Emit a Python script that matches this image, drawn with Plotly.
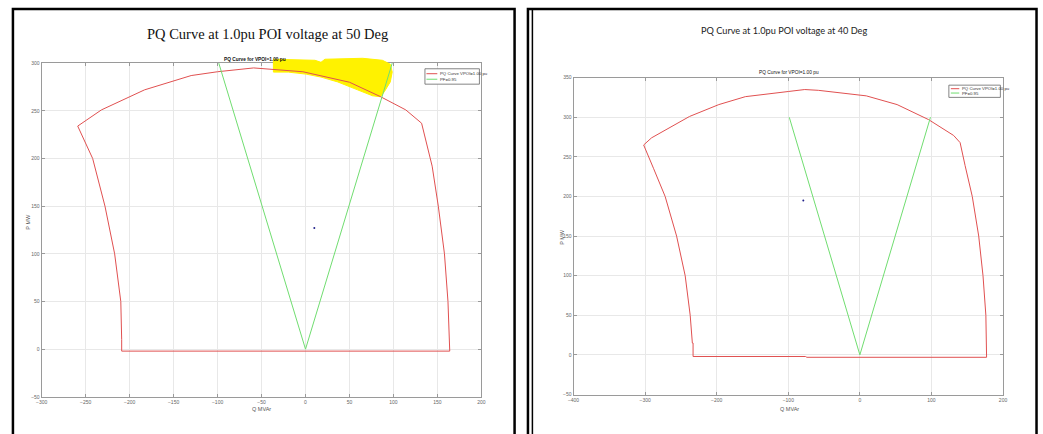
import plotly.graph_objects as go

W, H = 1043, 434

# ---------------- data: left panel (50 Deg) ----------------
q_pq50 = [-209, -209, -210, -217, -228, -242, -259, -232, -183, -130, -100, -59, -3, 50, 85, 114, 132, 144, 151, 158, 162, 164, 164, -209]
p_pq50 = [-2, 10, 50, 100, 150, 200, 234, 251, 272, 287, 291, 295, 291, 280, 265, 251, 237, 192, 150, 100, 50, 10, -2, -2]
q_pf50 = [-98.6, 0, 98.6]
p_pf50 = [300, 0, 300]
q_pt50 = [10]
p_pt50 = [127]
q_hl50 = [-36.5, 10.8, 17.6, 22.1, 64.9, 87.4, 96.4, 98.6, 96.4, 89.6, 85.1, 76.1, 59.2, 48.0, 36.7, 17.6, 0.7, -19.6, -36.5, -36.5]
p_hl50 = [304.1, 303.0, 300.9, 304.1, 305.1, 303.0, 298.9, 290.7, 280.3, 270.0, 264.8, 265.8, 272.0, 276.1, 280.3, 285.4, 288.5, 290.6, 290.6, 304.1]

# ---------------- data: right panel (40 Deg) ----------------
q_pq40 = [-233, -233, -234, -237, -244, -256, -272, -288, -302, -291, -238, -197, -160, -100, -77, -58, 9, 52, 96, 131, 140, 147, 157, 166, 172, 176, 177, 177, -74, -76, -233]
p_pq40 = [-2, 15, 15, 50, 100, 150, 200, 235, 265, 274, 301, 316, 326, 332.5, 335, 334, 327, 316, 297, 277, 268, 239, 200, 150, 100, 50, 10, -3, -3, -2, -2]
q_pf40 = [-98.6, 0, 98.6]
p_pf40 = [300, 0, 300]
q_pt40 = [-79]
p_pt40 = [195]

x_ticks50 = list(range(-300, 201, 50))
y_ticks50 = list(range(-50, 301, 50))
x_ticks40 = list(range(-400, 201, 100))
y_ticks40 = list(range(-50, 351, 50))

main_title50 = "PQ Curve at 1.0pu POI voltage at 50 Deg"
main_title40 = "PQ Curve at 1.0pu POI voltage at 40 Deg"
inner_title = "PQ Curve for VPOI=1.00 pu"
leg_names = ["PQ Curve VPOI=1.00 pu", "PF=0.95"]

RED = "#e05050"
GREEN = "#70dd70"


def px(x):
    return x / W


def py(y):
    return 1 - y / H


# left panel pixel geometry
L_X0, L_X1 = 36, 480
L_YB, L_YT = 399.4, 61
L_EXT = 12  # extra px above the visible box for the highlight overlay
l_ppu = (L_YB - L_YT) / 350.0

fig = go.Figure()

# left panel traces live on an invisible overlay axis with the same scale,
# extended a little upward so that the highlight can spill over the box edge
fig.add_trace(go.Scatter(x=q_hl50, y=p_hl50, xaxis="x3", yaxis="y3", mode="lines",
                         fill="toself", fillcolor="#fff200",
                         line=dict(color="#fff200", width=1),
                         showlegend=False, hoverinfo="skip"))
fig.add_trace(go.Scatter(x=q_pq50, y=p_pq50, xaxis="x3", yaxis="y3", mode="lines",
                         line=dict(color=RED, width=1), name=leg_names[0], showlegend=False))
fig.add_trace(go.Scatter(x=q_pf50, y=p_pf50, xaxis="x3", yaxis="y3", mode="lines",
                         line=dict(color=GREEN, width=1), name=leg_names[1], showlegend=False))
fig.add_trace(go.Scatter(x=q_pt50, y=p_pt50, xaxis="x3", yaxis="y3", mode="markers",
                         marker=dict(color="#20208a", size=2), showlegend=False))
# anchor trace so the visible left axes exist
fig.add_trace(go.Scatter(x=[None], y=[None], xaxis="x", yaxis="y", showlegend=False))

fig.add_trace(go.Scatter(x=q_pq40, y=p_pq40, xaxis="x2", yaxis="y2", mode="lines",
                         line=dict(color=RED, width=1), name=leg_names[0], showlegend=False))
fig.add_trace(go.Scatter(x=q_pf40, y=p_pf40, xaxis="x2", yaxis="y2", mode="lines",
                         line=dict(color=GREEN, width=1), name=leg_names[1], showlegend=False))
fig.add_trace(go.Scatter(x=q_pt40, y=p_pt40, xaxis="x2", yaxis="y2", mode="markers",
                         marker=dict(color="#20208a", size=2), showlegend=False))

tickfont = dict(family="Liberation Sans", size=5, color="#666")
axis_common = dict(showgrid=True, gridcolor="#e8e8e8", gridwidth=1, zeroline=False,
                   showline=True, linecolor="#9a9a9a", linewidth=1, mirror="ticks",
                   ticks="inside", ticklen=3, tickcolor="#9a9a9a", tickfont=tickfont)
hidden = dict(visible=False, showgrid=False, zeroline=False, fixedrange=True)

fig.update_layout(
    width=W, height=H, margin=dict(l=0, r=0, t=0, b=0),
    paper_bgcolor="white", plot_bgcolor="rgba(0,0,0,0)", showlegend=False,
    xaxis=dict(domain=[px(L_X0), px(L_X1)], range=[-300, 200], tickvals=x_ticks50,
               anchor="y", **axis_common),
    yaxis=dict(domain=[py(L_YB), py(L_YT)], range=[-50, 300], tickvals=y_ticks50,
               anchor="x", **axis_common),
    xaxis3=dict(domain=[px(L_X0), px(L_X1)], range=[-300, 200], anchor="y3", **hidden),
    yaxis3=dict(domain=[py(L_YB), py(L_YT - L_EXT)], range=[-50, 300 + L_EXT / l_ppu],
                anchor="x3", **hidden),
    xaxis2=dict(domain=[px(573), px(1006.7)], range=[-400, 200], tickvals=x_ticks40,
                anchor="y2", **axis_common),
    yaxis2=dict(domain=[py(397), py(75.7)], range=[-50, 350], tickvals=y_ticks40,
                anchor="x2", **axis_common),
)

shapes = []
annos = []


def note(text, x, y, size, family="Liberation Sans", color="#555", xanchor="center", angle=0):
    annos.append(dict(text=text, x=px(x), y=py(y), xref="paper", yref="paper",
                      xanchor=xanchor, yanchor="middle", textangle=angle, showarrow=False,
                      font=dict(family=family, size=size, color=color)))


# frames
shapes.append(dict(type="rect", xref="paper", yref="paper", x0=px(7), x1=px(513.5),
                   y0=-0.2, y1=py(6), line=dict(color="black", width=2.5)))
shapes.append(dict(type="rect", xref="paper", yref="paper", x0=px(527), x1=px(1040.5),
                   y0=-0.2, y1=py(6), line=dict(color="black", width=2.5)))
shapes.append(dict(type="line", xref="paper", yref="paper", x0=px(531.5), x1=px(531.5),
                   y0=-0.2, y1=py(6), line=dict(color="black", width=1.5)))

# main titles
note(main_title50, 264, 31, 14.5, family="Liberation Serif", color="#111")
note(main_title40, 786, 28, 9.2, family="Lato", color="#222")

# inner titles
note("<b>" + inner_title + "</b>", 251, 57, 4.8, color="#111")
note(inner_title, 791, 70.5, 4.8, color="#111")

# axis titles
note("Q MVAr", 258, 412, 5.5)
note("P MW", 22, 222, 5.5, angle=-90)
note("Q MVAr", 791, 412, 5.5)
note("P MW", 561.5, 237, 5.5, angle=-90)


def legend(x0, x1, y0, y1, rows, lx0, lx1, tx):
    shapes.append(dict(type="rect", xref="paper", yref="paper", x0=px(x0), x1=px(x1),
                       y0=py(y1), y1=py(y0), line=dict(color="#666", width=0.8),
                       fillcolor="white"))
    for (yy, col, name) in rows:
        shapes.append(dict(type="line", xref="paper", yref="paper", x0=px(lx0), x1=px(lx1),
                           y0=py(yy), y1=py(yy), line=dict(color=col, width=1)))
        note(name, tx, yy, 4.3, color="#333", xanchor="left")


legend(423, 478, 66.7, 82.3, [(71.7, RED, leg_names[0]), (77.3, GREEN, leg_names[1])], 424.5, 435.5, 436)
legend(952, 1004, 83.3, 95.7, [(86.9, RED, leg_names[0]), (91.3, GREEN, leg_names[1])], 954, 962.5, 963)

fig.update_layout(shapes=shapes, annotations=annos)

fig.write_html("out.html", config={"displayModeBar": False},
               post_script="document.body.style.margin='0';document.body.style.overflow='hidden';")
